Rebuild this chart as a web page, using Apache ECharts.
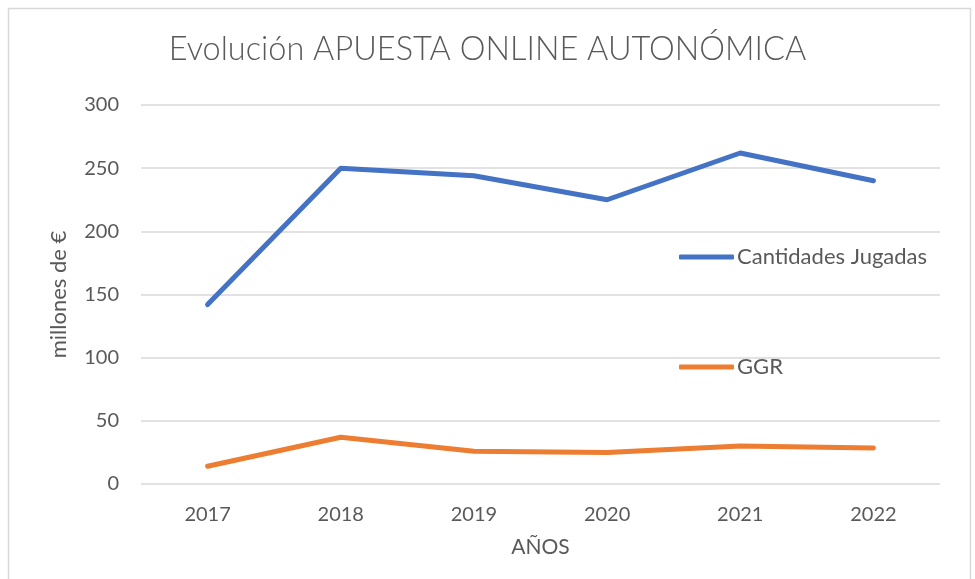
<!DOCTYPE html>
<html>
<head>
<meta charset="utf-8">
<script src="https://cdn.jsdelivr.net/npm/echarts@6/dist/echarts.min.js"></script>
<style>
  html, body { margin: 0; padding: 0; background: #fff; }
  #main { width: 975px; height: 579px; }
</style>
</head>
<body>
<div id="main"></div>
<script>
// data
const years = ['2017', '2018', '2019', '2020', '2021', '2022']
const cantidadesJugadas = [142, 250, 244, 225, 262, 240]
const ggr = [14, 37, 26, 25, 30, 28.5]
const yTicks = { min: 0, max: 300, interval: 50 }

const FONT = 'Lato, "Open Sans", sans-serif'
const GREY = '#595959'

const lineSeries = (name, data, color) => ({
  name,
  type: 'line',
  data,
  symbol: 'none',
  lineStyle: { width: 5, color, cap: 'round', join: 'round' },
  itemStyle: { color }
})

const myChart = echarts.init(document.getElementById('main'))
myChart.setOption({
  animation: false,
  backgroundColor: '#fff',
  textStyle: { fontFamily: FONT },
  graphic: [{
    type: 'rect',
    shape: { x: 8.5, y: 8.5, width: 962, height: 600 },
    style: { fill: 'none', stroke: '#D9D9D9', lineWidth: 1.5 },
    silent: true
  }],
  title: {
    text: 'Evolución APUESTA ONLINE AUTONÓMICA',
    left: 'center',
    top: 28,
    textStyle: { fontFamily: FONT, fontSize: 32.5, fontWeight: 300, color: GREY }
  },
  legend: {
    orient: 'vertical',
    left: 674,
    top: 241,
    itemGap: 88,
    itemWidth: 55,
    itemHeight: 5,
    icon: 'roundRect',
    textStyle: { fontFamily: FONT, fontSize: 22, color: GREY, padding: [0, 0, 0, -2] },
    data: ['Cantidades Jugadas', 'GGR']
  },
  grid: { left: 141, right: 35, top: 105, bottom: 95 },
  xAxis: {
    type: 'category',
    data: years,
    name: 'AÑOS',
    nameLocation: 'middle',
    nameGap: 53,
    nameTextStyle: { fontFamily: FONT, fontSize: 21, color: GREY },
    axisLine: { show: false },
    axisTick: { show: false },
    axisLabel: { fontFamily: FONT, fontSize: 20, color: GREY, margin: 21 }
  },
  yAxis: {
    type: 'value',
    min: yTicks.min,
    max: yTicks.max,
    interval: yTicks.interval,
    name: 'millones de €',
    nameLocation: 'middle',
    nameGap: 71,
    nameTextStyle: { fontFamily: FONT, fontSize: 22, color: GREY },
    axisLine: { show: false },
    axisTick: { show: false },
    axisLabel: { fontFamily: FONT, fontSize: 20, color: GREY, margin: 22 },
    splitLine: { lineStyle: { color: '#D9D9D9', width: 1.5 } }
  },
  series: [
    lineSeries('Cantidades Jugadas', cantidadesJugadas, '#4472C4'),
    lineSeries('GGR', ggr, '#ED7D31')
  ]
})
</script>
</body>
</html>
